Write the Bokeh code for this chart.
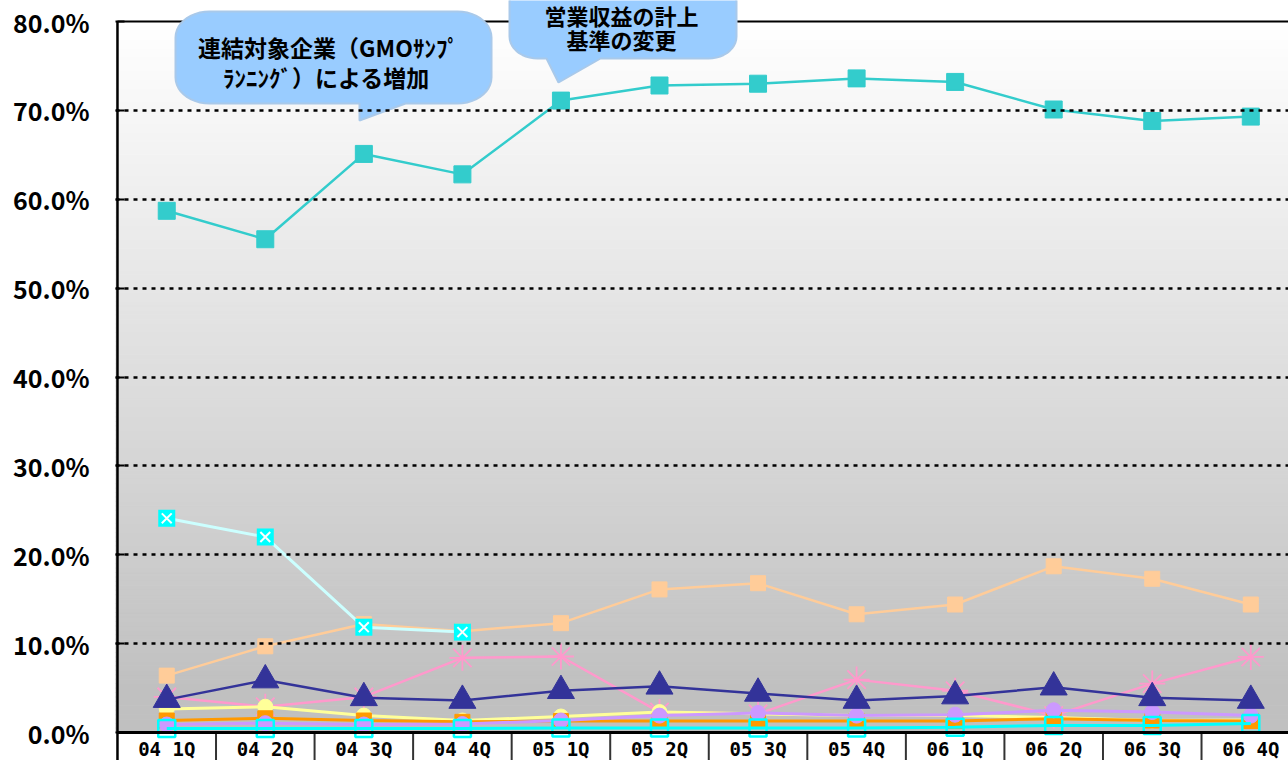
import numpy as np
from bokeh.plotting import figure
from bokeh.models import Range1d, FixedTicker, PrintfTickFormatter
from bokeh.core.properties import value
from bokeh.embed import file_html
from bokeh.resources import INLINE

# ---------------- data ----------------
categories = ["04 1Q", "04 2Q", "04 3Q", "04 4Q", "05 1Q", "05 2Q",
              "05 3Q", "05 4Q", "06 1Q", "06 2Q", "06 3Q", "06 4Q"]
y_ticks = [0, 10, 20, 30, 40, 50, 60, 70, 80]

s_teal = [58.7, 55.5, 65.1, 62.8, 71.1, 72.8, 73.0, 73.6, 73.2, 70.1, 68.8, 69.3]
s_cyan_x = [24.1, 22.0, 11.85, 11.3]
s_peach = [6.4, 9.7, 12.2, 11.4, 12.3, 16.1, 16.8, 13.3, 14.4, 18.7, 17.3, 14.4]
s_pink = [4.0, 2.9, 4.0, 8.4, 8.55, 2.3, 2.1, 5.95, 4.7, 1.9, 5.5, 8.5]
s_yellow = [2.65, 2.9, 1.9, 1.35, 1.8, 2.3, 2.1, 1.9, 1.9, 1.7, 1.35, 1.4]
s_orange = [1.35, 1.6, 1.35, 1.2, 1.3, 1.3, 1.3, 1.3, 1.3, 1.55, 1.35, 1.3]
s_purple = [0.9, 1.05, 0.9, 0.95, 1.35, 1.9, 2.2, 1.9, 2.0, 2.5, 2.3, 1.9]
s_navy = [3.7, 5.9, 3.9, 3.6, 4.7, 5.2, 4.4, 3.6, 4.1, 5.1, 3.9, 3.6]
s_cyan_open = [0.45, 0.45, 0.45, 0.45, 0.5, 0.5, 0.5, 0.5, 0.6, 0.8, 0.8, 1.0]

note1 = ["連結対象企業（GMOｻﾝﾌﾟ", "ﾗﾝﾆﾝｸﾞ）による増加"]
note2 = ["営業収益の計上", "基準の変更"]

# ---------------- layout (page pixels) ----------------
W, H = 1288, 760
BL = 115                 # left border (y-axis labels)
FW = W - BL
AXIS_PY = 732            # page y of the 0 % line
PX_CAT = 98.55
PX_PCT = 8.8875
X0 = -0.52
X1 = X0 + FW / PX_CAT
Y0 = -(H - AXIS_PY) / PX_PCT
Y1 = AXIS_PY / PX_PCT

def dx(px):
    return X0 + (px - BL) / PX_CAT

def dy(py):
    return (AXIS_PY - py) / PX_PCT

p = figure(width=W, height=H, x_range=Range1d(X0, X1), y_range=Range1d(Y0, Y1),
           output_backend="svg", toolbar_location=None,
           min_border_left=BL, min_border_right=0, min_border_top=0,
           min_border_bottom=0)
p.outline_line_color = None
p.background_fill_color = "white"
p.border_fill_color = "white"
p.xaxis.visible = False

# background gradient
n = 160
edges = np.linspace(0, 80, n + 1)
mids = (edges[:-1] + edges[1:]) / 2
cols = []
for m in mids:
    t = min(max((m - 5) / 75.0, 0.0), 1.0)
    g = int(round(192 + 63 * t))
    cols.append("#%02x%02x%02x" % (g, g, g))
bg = p.quad(left=X0, right=X1, bottom=edges[:-1], top=edges[1:],
            fill_color=cols, line_color=cols, line_width=1)
bg.level = "underlay"

# grid
p.xgrid.visible = False
p.ygrid.ticker = FixedTicker(ticks=y_ticks[1:-1])
p.ygrid.grid_line_color = "black"
p.ygrid.grid_line_dash = "4 5"
p.ygrid.grid_line_width = 2.5
p.ygrid.level = "glyph"

# y axis
p.yaxis.ticker = FixedTicker(ticks=y_ticks)
p.yaxis.formatter = PrintfTickFormatter(format="%.1f%%")
p.yaxis.axis_line_color = None
p.yaxis.major_tick_in = 9
p.yaxis.major_tick_out = 0
p.yaxis.minor_tick_line_color = None
p.yaxis.major_tick_line_width = 2
p.yaxis.major_tick_line_color = "black"
p.yaxis.major_label_standoff = 26
p.yaxis.major_label_text_font = "Noto Sans CJK JP"
p.yaxis.major_label_text_font_style = "bold"
p.yaxis.major_label_text_font_size = "25px"
p.yaxis.major_label_text_color = "black"

# frame lines and category label row
ncat = len(categories)
p.segment(x0=[-0.5], y0=[Y0], x1=[-0.5], y1=[80], line_color="black", line_width=2.5)
p.segment(x0=[-0.5], y0=[80], x1=[X1], y1=[80], line_color="black", line_width=2)
sep = [i + 0.5 for i in range(ncat)]
p.segment(x0=sep, y0=[0] * ncat, x1=sep, y1=[Y0] * ncat, line_color="#333333", line_width=2)
p.text(x=list(range(ncat)), y=[dy(748)] * ncat, text=categories,
       text_font=value("DejaVu Sans Mono"), text_font_style="bold",
       text_font_size="19px", text_color="black",
       text_align="center", text_baseline="middle")

def xs(vals):
    return list(range(len(vals)))

# teal squares
p.line(xs(s_teal), s_teal, line_color="#33cccc", line_width=2.5)
p.scatter(xs(s_teal), s_teal, marker="square", size=17, fill_color="#33cccc", line_color="#33cccc")

# peach squares
p.line(xs(s_peach), s_peach, line_color="#ffcc99", line_width=2.5)
p.scatter(xs(s_peach), s_peach, marker="square", size=15, fill_color="#ffcc99", line_color="#ffcc99")

# cyan X squares
p.line(xs(s_cyan_x), s_cyan_x, line_color="#ccffff", line_width=3)
p.scatter(xs(s_cyan_x), s_cyan_x, marker="square", size=17, fill_color="#00ffff", line_color=None)
p.scatter(xs(s_cyan_x), s_cyan_x, marker="x", size=14, line_color="white", line_width=2)

# pink asterisks
p.line(xs(s_pink), s_pink, line_color="#ff99cc", line_width=2.5)
p.scatter(xs(s_pink), s_pink, marker="asterisk", size=26, line_color="#ff99cc", line_width=1.8)

# yellow circles
p.line(xs(s_yellow), s_yellow, line_color="#ffff99", line_width=3)
p.scatter(xs(s_yellow), s_yellow, marker="circle", size=15, fill_color="#ffff99", line_color="#ffff99")

# orange squares
p.line(xs(s_orange), s_orange, line_color="#ff9900", line_width=3)
p.scatter(xs(s_orange), s_orange, marker="square", size=15, fill_color="#ff9900", line_color="#ff9900")

# purple circles
p.line(xs(s_purple), s_purple, line_color="#cc99ff", line_width=3)
p.scatter(xs(s_purple), s_purple, marker="circle", size=15, fill_color="#cc99ff", line_color="#cc99ff")

# navy triangles
p.line(xs(s_navy), s_navy, line_color="#333399", line_width=2.5)
p.scatter(xs(s_navy), s_navy, marker="triangle", size=27, fill_color="#333399", line_color="#333399")

# cyan open squares
p.line(xs(s_cyan_open), s_cyan_open, line_color="#00ffff", line_width=3)
p.scatter(xs(s_cyan_open), s_cyan_open, marker="square", size=17, fill_color=None,
          line_color="#00ffff", line_width=2.5)

# bottom axis line
p.segment(x0=[-0.5], y0=[0], x1=[X1], y1=[0], line_color="black", line_width=3)

# ---------------- callouts ----------------
def bubble(l, t, r, b, rx, ry, base0, base1, tipx, tipy):
    pts = []
    def arc(cx, cy, a0, a1):
        for a in np.linspace(np.radians(a0), np.radians(a1), 12):
            pts.append((cx + rx * np.cos(a), cy + ry * np.sin(a)))
    pts.append((l + rx, t))
    arc(r - rx, t + ry, -90, 0)
    arc(r - rx, b - ry, 0, 90)
    pts.append((base1, b))
    pts.append((tipx, tipy))
    pts.append((base0, b))
    arc(l + rx, b - ry, 90, 180)
    arc(l + rx, t + ry, 180, 270)
    xx = [dx(a) for a, _ in pts]
    yy = [dy(c) for _, c in pts]
    p.patch(xx, yy, fill_color="#99ccff", line_color="#a9c9ea", line_width=2)

bubble(175, 11, 491, 103, 34, 26, 359, 405, 359, 120)
bubble(509, -30, 736, 58, 28, 22, 546, 600, 558, 82)

tf = dict(text_font=value("Noto Sans CJK JP"), text_font_style="bold",
          text_color="black", text_align="center", text_baseline="middle")
p.text(x=[dx(328)], y=[dy(46)], text=[note1[0]], text_font_size="23px", **tf)
p.text(x=[dx(326)], y=[dy(76)], text=[note1[1]], text_font_size="23px", **tf)
p.text(x=[dx(621)], y=[dy(14)], text=[note2[0]], text_font_size="22px", **tf)
p.text(x=[dx(621)], y=[dy(38)], text=[note2[1]], text_font_size="22px", **tf)

open("out.html", "w").write(file_html(p, INLINE))
